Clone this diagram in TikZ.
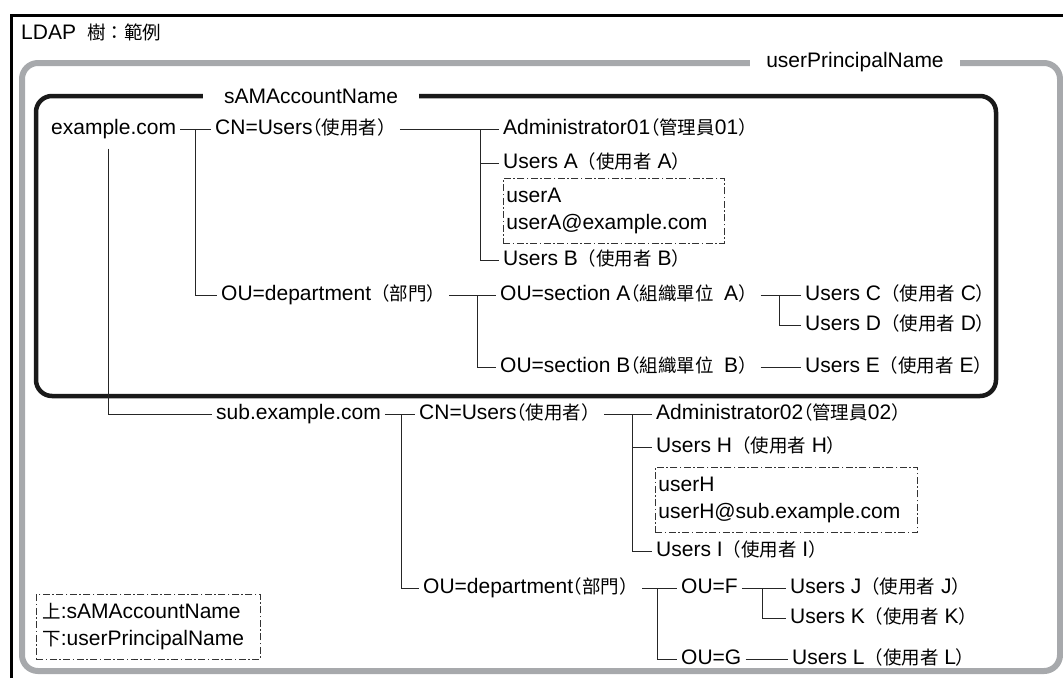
\documentclass[tikz,border=0pt]{standalone}
\usepackage{fontspec}
\setmainfont{Liberation Sans}
\newfontfamily\cjkfont[Scale=0.88]{Noto Sans CJK TC}
\newfontfamily\cjkhalt[Scale=0.88,RawFeature=+halt]{Noto Sans CJK TC}
\usetikzlibrary{positioning,calc}
\definecolor{LDGray}{HTML}{A7A9AC}
\newcommand{\ldapzh}[1]{{\cjkfont #1}}
\newcommand{\ldapopen}{{\cjkhalt （}}
\newcommand{\ldapsize}{\fontsize{21}{27}\selectfont}

\begin{document}
\begin{tikzpicture}[
    x=1pt, y=-1pt,
    ldaptext/.style={
      anchor=west,
      inner xsep=4pt,
      inner ysep=0pt,
      text height=15pt,
      text depth=4pt,
      font=\ldapsize
    },
    ldapline/.style={
      draw=black!85,
      line width=1pt
    },
    ldapattr/.style={
      draw=black!80,
      line width=0.8pt,
      dash pattern=on 7pt off 2.5pt on 1.5pt off 2.5pt,
      anchor=north west,
      inner xsep=3pt,
      inner ysep=0pt,
      minimum height=65pt,
      align=left,
      font=\ldapsize
    },
    ldapframe/.style={
      rounded corners=16pt
    },
    ldaplabel/.style={
      fill=white,
      inner ysep=2pt,
      font=\ldapsize
    }
  ]
  \useasboundingbox (0,0) rectangle (1063,678);

  % 外框與範圍
  \draw[line width=3pt] (11,678) -- (11,15) -- (1063,15);
  \node[ldaptext] (title) at (17,34) {LDAP\hspace{11pt}\ldapzh{樹：範例}};
  \draw[LDGray, line width=6pt, ldapframe] (22,63) rectangle (1060,671);
  \draw[black!90, line width=4.5pt, ldapframe] (36,96) rectangle (996,396);
  \node[ldaplabel, inner xsep=16pt] (upnlabel) at (855,62) {userPrincipalName};
  \node[ldaplabel, inner xsep=21pt] (samlabel) at (311,96) {sAMAccountName};

  % example.com
  \node[ldaptext] (ex) at (47,129) {example.com};
  \node[ldaptext] (cnu) at (211,129) {CN=Users\ldapopen\ldapzh{使用者）}};
  \node[ldaptext] (adm1) at (499,129) {Administrator01\ldapopen\ldapzh{管理員}01\ldapzh{）}};
  \node[ldaptext] (usera) at (499,163) {Users A\ldapzh{（使用者} A\ldapzh{）}};
  \node[ldapattr, text width=215pt] (attra) at (503,178) {userA\\userA@example.com};
  \node[ldaptext] (userb) at (499,260) {Users B\ldapzh{（使用者} B\ldapzh{）}};
  \node[ldaptext] (oud) at (217,295) {OU=department\ldapzh{（部門）}};
  \node[ldaptext] (seca) at (496,295) {OU=section A\ldapopen\ldapzh{組織單位}\hspace{0.5em}A\ldapzh{）}};
  \node[ldaptext] (userc) at (801,295) {Users C\ldapzh{（使用者} C\ldapzh{）}};
  \node[ldaptext] (userd) at (801,325) {Users D\ldapzh{（使用者} D\ldapzh{）}};
  \node[ldaptext] (secb) at (496,367) {OU=section B\ldapopen\ldapzh{組織單位}\hspace{0.5em}B\ldapzh{）}};
  \node[ldaptext] (usere) at (801,367) {Users E\ldapzh{（使用者} E\ldapzh{）}};

  % sub.example.com
  \node[ldaptext] (sub) at (212,414) {sub.example.com};
  \node[ldaptext] (cnu2) at (415,414) {CN=Users\ldapopen\ldapzh{使用者）}};
  \node[ldaptext] (adm2) at (652,414) {Administrator02\ldapopen\ldapzh{管理員}02\ldapzh{）}};
  \node[ldaptext] (userh) at (652,447) {Users H\ldapzh{（使用者} H\ldapzh{）}};
  \node[ldapattr, text width=256pt] (attrh) at (655,467) {userH\\userH@sub.example.com};
  \node[ldaptext] (useri) at (652,551) {Users I\ldapzh{（使用者} I\ldapzh{）}};
  \node[ldaptext] (oud2) at (419,588) {OU=department\ldapopen\ldapzh{部門）}};
  \node[ldaptext] (ouf) at (677,588) {OU=F};
  \node[ldaptext] (userj) at (786,588) {Users J\ldapzh{（使用者} J\ldapzh{）}};
  \node[ldaptext] (userk) at (786,618) {Users K\ldapzh{（使用者} K\ldapzh{）}};
  \node[ldaptext] (oug) at (677,659) {OU=G};
  \node[ldaptext] (userl) at (788,659) {Users L\ldapzh{（使用者} L\ldapzh{）}};

  % 凡例
  \node[ldapattr, inner xsep=6pt, text width=212pt] (legend) at (36,594) {\ldapzh{上}:sAMAccountName\\\ldapzh{下}:userPrincipalName};

  % 樹狀連線
  \draw[ldapline] (ex.east) -- (cnu.west);
  \coordinate (exbr) at ($(ex.east)!0.5!(cnu.west)$);
  \draw[ldapline] (exbr) |- (oud.west);
  \draw[ldapline] ([xshift=-5pt,yshift=-10pt]ex.south) |- (sub.west);

  \draw[ldapline] (cnu.east) -- (adm1.west);
  \coordinate (cnubr) at ($(adm1.west)+(-19,0)$);
  \draw[ldapline] (cnubr) |- (usera.west);
  \draw[ldapline] (cnubr) |- (userb.west);

  \draw[ldapline] (oud.east) -- (seca.west);
  \coordinate (oudbr) at ($(seca.west)+(-19,0)$);
  \draw[ldapline] (oudbr) |- (secb.west);
  \draw[ldapline] (seca.east) -- (userc.west);
  \coordinate (secabr) at ($(userc.west)+(-22,0)$);
  \draw[ldapline] (secabr) |- (userd.west);
  \draw[ldapline] (secb.east) -- (usere.west);

  \draw[ldapline] (sub.east) -- (cnu2.west);
  \coordinate (subbr) at ($(cnu2.west)+(-14,0)$);
  \draw[ldapline] (subbr) |- (oud2.west);

  \draw[ldapline] (cnu2.east) -- (adm2.west);
  \coordinate (cnu2br) at ($(adm2.west)+(-20,0)$);
  \draw[ldapline] (cnu2br) |- (userh.west);
  \draw[ldapline] (cnu2br) |- (useri.west);

  \draw[ldapline] (oud2.east) -- (ouf.west);
  \coordinate (oud2br) at ($(ouf.west)+(-20,0)$);
  \draw[ldapline] (oud2br) |- (oug.west);
  \draw[ldapline] (ouf.east) -- (userj.west);
  \coordinate (oufbr) at ($(userj.west)+(-24,0)$);
  \draw[ldapline] (oufbr) |- (userk.west);
  \draw[ldapline] (oug.east) -- (userl.west);

\end{tikzpicture}
\end{document}
